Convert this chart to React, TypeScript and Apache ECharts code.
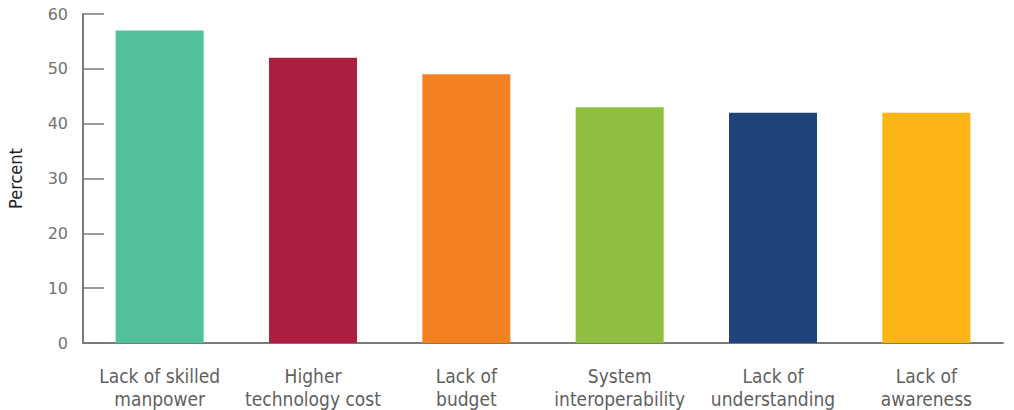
import React, { useEffect, useRef } from "react";
import * as echarts from "echarts";

const categories = [
  "Lack of skilled\nmanpower",
  "Higher\ntechnology cost",
  "Lack of\nbudget",
  "System\ninteroperability",
  "Lack of\nunderstanding",
  "Lack of\nawareness",
];
const values = [57, 52, 49, 43, 42, 42];
const colors = ["#52BF9D", "#AB1F40", "#F38121", "#90BF3F", "#1E4479", "#FCB517"];
const yTicks = [0, 10, 20, 30, 40, 50, 60];

const condensed = "'DejaVu Sans Condensed', 'Liberation Sans Narrow', 'Roboto', sans-serif";

export default function App() {
  const ref = useRef<HTMLDivElement>(null);
  useEffect(() => {
    if (!ref.current) return;
    const chart = echarts.init(ref.current, null, { renderer: "svg" });
    chart.setOption({
      animation: false,
      grid: { left: 83, right: 11, top: 14, bottom: 67, outerBoundsMode: "none", containLabel: false },
      xAxis: {
        type: "category",
        data: categories,
        axisLine: { lineStyle: { color: "#7a7a7a", width: 2 } },
        axisTick: { inside: true, length: 5, lineStyle: { color: "#7a7a7a", width: 1.5 } },
        axisLabel: {
          interval: 0,
          color: "#5f5f5f",
          fontFamily: condensed,
          fontSize: 19,
          lineHeight: 23,
          margin: 21,
        },
      },
      yAxis: {
        type: "value",
        min: 0,
        max: yTicks[yTicks.length - 1],
        interval: 10,
        name: "Percent",
        nameLocation: "middle",
        nameGap: 59,
        nameRotate: 90,
        nameTextStyle: {
          color: "#222",
          fontFamily: condensed,
          fontSize: 18,
        },
        axisLine: { show: true, lineStyle: { color: "#7a7a7a", width: 2 } },
        axisTick: { show: true, inside: true, length: 21, lineStyle: { color: "#7a7a7a", width: 1.5 } },
        splitLine: { show: false },
        axisLabel: {
          color: "#727272",
          fontFamily: "'DejaVu Sans', sans-serif",
          fontSize: 16,
          margin: 15,
        },
      },
      series: [
        {
          type: "bar",
          data: values.map((v, i) => ({ value: v, itemStyle: { color: colors[i] } })),
          barWidth: "57.4%",
        },
      ],
    });
    return () => chart.dispose();
  }, []);
  return (
    <div
      ref={ref}
      style={{ position: "fixed", left: 0, top: 0, width: 1014, height: 410, background: "#fff" }}
    />
  );
}
